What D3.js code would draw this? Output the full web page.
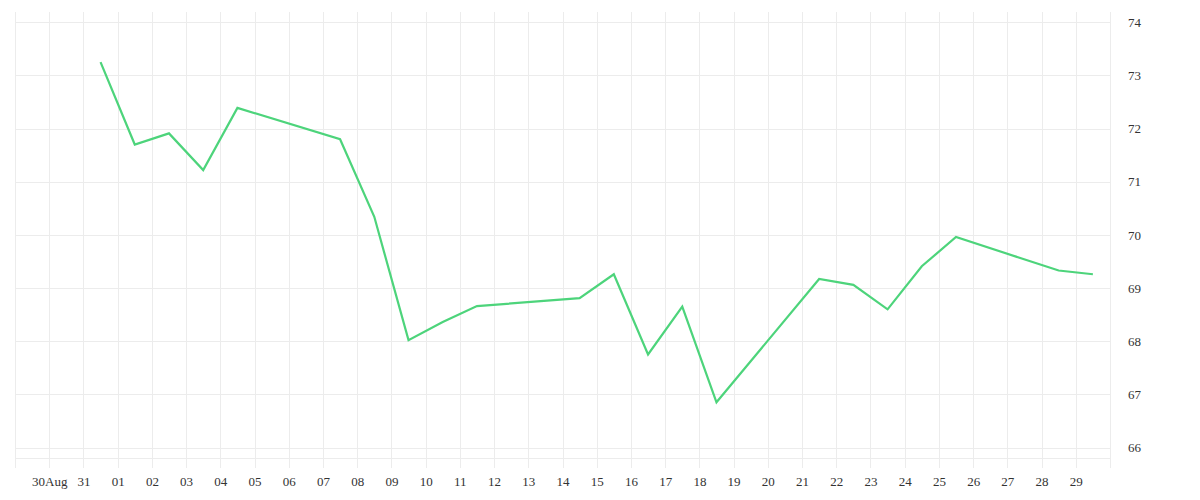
<!DOCTYPE html>
<html>
<head>
<meta charset="utf-8">
<script src="https://cdn.jsdelivr.net/npm/d3@7"></script>
<style>
  body { margin: 0; background: #fff; }
  .axis text { font-family: "Liberation Serif", serif; font-size: 13px; fill: #333; }
  .axis line { stroke: #ececec; shape-rendering: crispEdges; }
  .axis .domain { display: none; }
</style>
</head>
<body>
<div id="chart"></div>
<script>
// trading days (noon of each day), Aug 31 - Sep 29 2020
var days = ["2020-08-31","2020-09-01","2020-09-02","2020-09-03","2020-09-04",
            "2020-09-07","2020-09-08","2020-09-09","2020-09-10","2020-09-11",
            "2020-09-14","2020-09-15","2020-09-16","2020-09-17","2020-09-18",
            "2020-09-21","2020-09-22","2020-09-23","2020-09-24","2020-09-25",
            "2020-09-28","2020-09-29"];
var values = [73.25, 71.70, 71.91, 71.22, 72.39,
              71.80, 70.34, 68.02, 68.36, 68.66,
              68.81, 69.26, 67.75, 68.65, 66.85,
              69.17, 69.06, 68.60, 69.41, 69.96,
              69.33, 69.26];
var yTicks = [66, 67, 68, 69, 70, 71, 72, 73, 74];

var width = 1200, height = 500;
var plotLeft = 15, plotRight = 1110, plotTop = 12, plotBottom = 458;

var parse = d3.utcParse("%Y-%m-%d");
var data = days.map(function(d, i) {
  return { date: d3.utcHour.offset(parse(d), 12), value: values[i] };
});

var svg = d3.select("#chart").append("svg")
  .attr("width", width)
  .attr("height", height);

var x = d3.scaleUtc()
  .domain([parse("2020-08-29"), parse("2020-09-30")])
  .range([plotLeft, plotRight]);

var y = d3.scaleLinear()
  .domain([66, 74])
  .range([447.5, 22.3]);

// x grid + labels
var gridDays = d3.utcDay.range(parse("2020-08-29"), parse("2020-10-01"));
var xAxis = d3.axisBottom(x)
  .tickValues(gridDays)
  .tickSize(-(468 - plotTop))
  .tickPadding(9)
  .tickFormat(function(d) {
    if (d < parse("2020-08-30") || d > parse("2020-09-29")) return "";
    if (+d == +parse("2020-08-30")) return "30Aug";
    return d3.utcFormat("%d")(d);
  });

svg.append("g")
  .attr("class", "axis")
  .attr("transform", "translate(0,468)")
  .call(xAxis);

// y grid + labels on the right
var yAxis = d3.axisRight(y)
  .tickValues(yTicks)
  .tickSize(-(plotRight - plotLeft))
  .tickPadding(18)
  .tickFormat(d3.format("d"));

svg.append("g")
  .attr("class", "axis")
  .attr("transform", "translate(" + plotRight + ",0)")
  .call(yAxis);

// bottom border of the plot
svg.append("line")
  .attr("x1", plotLeft).attr("x2", plotRight)
  .attr("y1", plotBottom + 0.5).attr("y2", plotBottom + 0.5)
  .attr("stroke", "#ececec")
  .attr("shape-rendering", "crispEdges");

var line = d3.line()
  .x(function(d) { return x(d.date); })
  .y(function(d) { return y(d.value); });

svg.append("path")
  .datum(data)
  .attr("d", line)
  .attr("fill", "none")
  .attr("stroke", "#4dd47b")
  .attr("stroke-width", 2.2)
  .attr("stroke-linejoin", "miter");
</script>
</body>
</html>
